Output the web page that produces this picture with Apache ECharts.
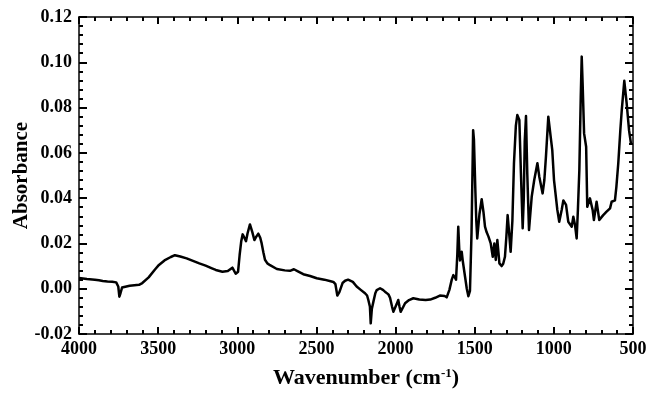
<!DOCTYPE html>
<html>
<head>
<meta charset="utf-8">
<script src="https://cdn.jsdelivr.net/npm/echarts@6/dist/echarts.min.js"></script>
<style>
  html, body { margin: 0; padding: 0; background: #fff; }
  #chart { width: 648px; height: 399px; }
</style>
</head>
<body>
<div id="chart"></div>
<script>
// FTIR spectrum: wavenumber (cm-1) and absorbance
const wavenumbers = [
  4000, 3950, 3900, 3874, 3850, 3820, 3790, 3765, 3752, 3745, 3738, 3728, 3716, 3680, 3650, 3621,
  3600, 3560, 3520, 3495, 3460, 3420, 3394, 3360, 3320, 3284, 3240, 3200, 3160, 3136, 3094, 3060,
  3031, 3020, 3010, 2995, 2985, 2975, 2966, 2955, 2945, 2935, 2920, 2905, 2892, 2880, 2867, 2855,
  2846, 2835, 2825, 2810, 2793, 2750, 2700, 2667, 2642, 2620, 2583, 2540, 2498, 2450, 2410, 2393,
  2380, 2368, 2362, 2355, 2345, 2335, 2319, 2300, 2288, 2270, 2246, 2220, 2193, 2180, 2172, 2162,
  2157, 2150, 2140, 2128, 2119, 2098, 2080, 2067, 2045, 2035, 2022, 2014, 2003, 1993, 1983, 1975,
  1968, 1955, 1940, 1915, 1888, 1850, 1810, 1781, 1750, 1720, 1708, 1690, 1677, 1660, 1645, 1635,
  1625, 1618, 1610, 1604, 1598, 1593, 1587, 1582, 1575, 1561, 1550, 1540, 1530, 1520, 1510, 1505,
  1496, 1490, 1484, 1470, 1456, 1445, 1435, 1425, 1413, 1399, 1386, 1376, 1367, 1357, 1344, 1330,
  1320, 1309, 1300, 1292, 1283, 1273, 1262, 1252, 1240, 1231, 1218, 1208, 1197, 1190, 1184, 1176,
  1168, 1157, 1140, 1124, 1104, 1092, 1071, 1060, 1050, 1035, 1025, 1020, 1010, 999, 978, 966,
  950, 940, 923, 909, 887, 877, 866, 856, 848, 839, 830, 824, 818, 809, 796, 789,
  772, 755, 747, 730, 713, 700, 688, 667, 645, 635, 614, 605, 593, 580, 571, 555,
  540, 525, 513, 507
];
const absorbance = [
  0.0047, 0.0043, 0.0040, 0.0037, 0.0034, 0.0032, 0.0031, 0.0028, 0.0010, -0.0035, -0.0020, 0.0005, 0.0010, 0.0013, 0.0015, 0.0017,
  0.0025, 0.0050, 0.0085, 0.0105, 0.0125, 0.0140, 0.0148, 0.0142, 0.0134, 0.0124, 0.0112, 0.0102, 0.0090, 0.0083, 0.0075, 0.0078,
  0.0093, 0.0088, 0.0066, 0.0075, 0.0150, 0.0210, 0.0240, 0.0225, 0.0210, 0.0245, 0.0284, 0.0250, 0.0215, 0.0230, 0.0243, 0.0225,
  0.0200, 0.0160, 0.0128, 0.0112, 0.0104, 0.0087, 0.0081, 0.0079, 0.0086, 0.0078, 0.0064, 0.0056, 0.0046, 0.0040, 0.0033, 0.0030,
  0.0020, -0.0030, -0.0038, -0.0015, 0.0005, 0.0025, 0.0035, 0.0040, 0.0044, 0.0030, 0.0010, -0.0005, -0.0020, -0.0030, -0.0050, -0.0080,
  -0.0153, -0.0090, -0.0057, -0.0020, -0.0006, 0.0002, -0.0005, -0.0013, -0.0025, -0.0040, -0.0080, -0.0102, -0.0095, -0.0068, -0.0050, -0.0080,
  -0.0102, -0.0085, -0.0064, -0.0050, -0.0042, -0.0048, -0.0050, -0.0048, -0.0040, -0.0030, -0.0028, -0.0032, -0.0038, -0.0005, 0.0040, 0.0060,
  0.0050, 0.0040, 0.0150, 0.0274, 0.0180, 0.0125, 0.0150, 0.0163, 0.0120, 0.0053, 0.0000, -0.0033, -0.0010, 0.0250, 0.0700, 0.0660,
  0.0436, 0.0300, 0.0222, 0.0330, 0.0395, 0.0340, 0.0274, 0.0250, 0.0230, 0.0200, 0.0141, 0.0200, 0.0127, 0.0215, 0.0112, 0.0100,
  0.0110, 0.0141, 0.0230, 0.0325, 0.0250, 0.0163, 0.0300, 0.0554, 0.0720, 0.0767, 0.0745, 0.0510, 0.0267, 0.0400, 0.0650, 0.0763,
  0.0510, 0.0259, 0.0406, 0.0480, 0.0554, 0.0495, 0.0421, 0.0480, 0.0583, 0.0760, 0.0700, 0.0671, 0.0612, 0.0480, 0.0348, 0.0296,
  0.0350, 0.0390, 0.0370, 0.0296, 0.0274, 0.0318, 0.0280, 0.0222, 0.0350, 0.0524, 0.0850, 0.1025, 0.0900, 0.0686, 0.0627, 0.0362,
  0.0399, 0.0348, 0.0303, 0.0384, 0.0303, 0.0315, 0.0325, 0.0340, 0.0355, 0.0384, 0.0390, 0.0450, 0.0554, 0.0700, 0.0789, 0.0918,
  0.0819, 0.0700, 0.0642, 0.0640
];

// Axis ranges and tick labels
const xTicks = [4000, 3500, 3000, 2500, 2000, 1500, 1000, 500];
const yTicks = [-0.02, 0.00, 0.02, 0.04, 0.06, 0.08, 0.10, 0.12];

const FONT = '"Liberation Serif", "Times New Roman", serif';
const spectrum = wavenumbers.map((w, i) => [w, absorbance[i]]);

const frameLine = { show: true, onZero: false, lineStyle: { color: '#000', width: 1.5 } };
const tickStyle = { color: '#000', width: 2 };

function xAxisDef(pos, labels) {
  return {
    type: 'value', position: pos, inverse: true,
    min: xTicks[xTicks.length - 1], max: xTicks[0], interval: 500,
    axisLine: frameLine,
    axisTick: { show: true, inside: true, length: 7, lineStyle: tickStyle },
    minorTick: { show: true, splitNumber: 5, length: 4, lineStyle: tickStyle },
    splitLine: { show: false },
    axisLabel: {
      show: labels, margin: 6, color: '#000',
      fontFamily: FONT, fontWeight: 'bold', fontSize: 18,
      formatter: v => String(Math.round(v))
    }
  };
}
function yAxisDef(pos, labels) {
  return {
    type: 'value', position: pos,
    min: yTicks[0], max: yTicks[yTicks.length - 1], interval: 0.02,
    axisLine: frameLine,
    axisTick: { show: true, inside: true, length: 8, lineStyle: tickStyle },
    minorTick: { show: true, splitNumber: 5, length: 4, lineStyle: tickStyle },
    splitLine: { show: false },
    axisLabel: {
      show: labels, margin: 7, color: '#000',
      fontFamily: FONT, fontWeight: 'bold', fontSize: 18,
      formatter: v => (Math.abs(v) < 1e-9 ? 0 : v).toFixed(2)
    }
  };
}

const xBottom = xAxisDef('bottom', true);
xBottom.name = '{t|Wavenumber (cm}{s|-1}{t|)}';
xBottom.nameLocation = 'middle';
xBottom.nameGap = 33;
xBottom.nameMoveOverlap = false;
xBottom.nameTextStyle = {
  padding: [0, 0, 0, 20],
  rich: {
    t: { fontFamily: FONT, fontWeight: 'bold', fontSize: 22, color: '#000' },
    s: { fontFamily: FONT, fontWeight: 'bold', fontSize: 13, color: '#000', verticalAlign: 'top' }
  }
};

const yLeft = yAxisDef('left', true);
yLeft.name = 'Absorbance';
yLeft.nameLocation = 'middle';
yLeft.nameRotate = 90;
yLeft.nameGap = 47;
yLeft.nameMoveOverlap = false;
yLeft.nameTextStyle = { fontFamily: FONT, fontWeight: 'bold', fontSize: 21, color: '#000' };

const chart = echarts.init(document.getElementById('chart'), null, { renderer: 'canvas' });
chart.setOption({
  animation: false,
  backgroundColor: '#fff',
  grid: { left: 79, right: 15, top: 17, bottom: 65, containLabel: false, outerBoundsMode: 'none' },
  xAxis: [xBottom, xAxisDef('top', false)],
  yAxis: [yLeft, yAxisDef('right', false)],
  series: [{
    type: 'line',
    xAxisIndex: 0, yAxisIndex: 0,
    data: spectrum,
    showSymbol: false,
    lineStyle: { color: '#000', width: 2.5, join: 'round' },
    z: 3
  }]
});
</script>
</body>
</html>
